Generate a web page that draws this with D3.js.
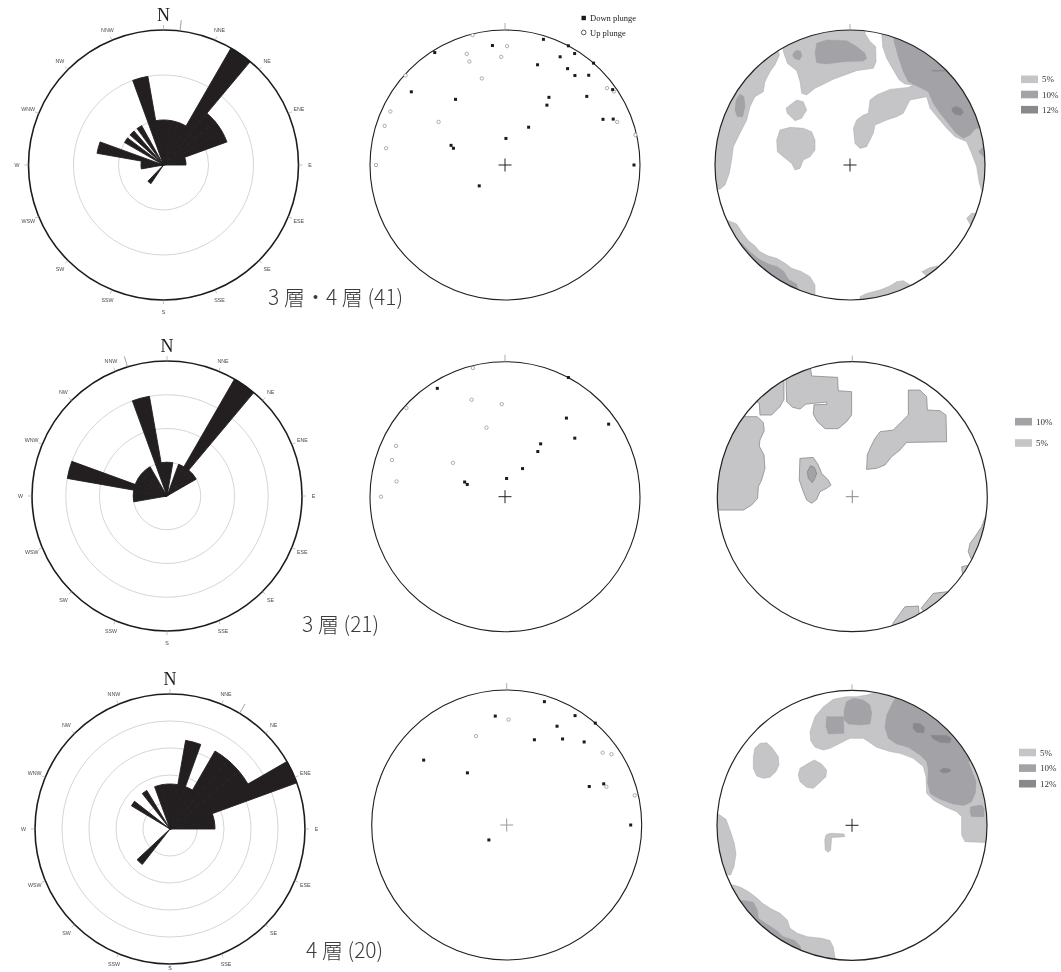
<!DOCTYPE html>
<html>
<head>
<meta charset="utf-8">
<script src="https://cdn.jsdelivr.net/npm/d3@7"></script>
<style>
  body { margin: 0; background: #fff; }
  svg { display: block; will-change: transform; }
</style>
</head>
<body>
<svg id="fig" width="1061" height="972"></svg>
<script>
// ---------------------------------------------------------------
// Orientation data of artifacts from layers 3 and 4.
// Column 1: rose diagrams of trend (10° bins, counts)
// Column 2: lower-hemisphere equal-area plots of long axes
// Column 3: density contours of the same axes (%)
// ---------------------------------------------------------------

const panelTitles = ["3 層・4 層 (41)", "3 層 (21)", "4 層 (20)"];
const compassLabels = ["N", "NNE", "NE", "ENE", "E", "ESE", "SE", "SSE",
                       "S", "SSW", "SW", "WSW", "W", "WNW", "NW", "NNW"];

// ---- rose diagrams: petal start azimuth, end azimuth, count ----
const rose1Start = [350, 0, 10, 20, 30, 40, 50, 60, 70, 80, 214, 260, 270, 280, 300, 312, 324, 340];
const rose1End   = [360, 10, 20, 30, 40, 50, 60, 70, 80, 90, 224, 270, 280, 290, 307, 319, 331, 350];
const rose1Count = [2, 2, 2, 2, 6, 3, 3, 3, 1, 1, 1, 1, 1, 3, 2, 2, 2, 4];
const rose1Max = 6, rose1Rings = [2, 4], rose1Mean = 7;

const rose2Start = [260, 270, 280, 290, 300, 310, 320, 340, 350, 0, 20, 30, 40, 50];
const rose2End   = [270, 280, 290, 300, 310, 320, 330, 350, 360, 10, 30, 40, 50, 60];
const rose2Count = [1, 1, 3, 1, 1, 1, 1, 3, 1, 1, 1, 4, 1, 1];
const rose2Max = 4, rose2Rings = [1, 2, 3], rose2Mean = 343;

const rose3Start = [340, 350, 0, 10, 20, 30, 40, 50, 60, 70, 80, 218, 301, 322];
const rose3End   = [350, 360, 10, 20, 30, 40, 50, 60, 70, 80, 90, 227, 308, 329];
const rose3Count = [1, 1, 1, 2, 1, 2, 2, 2, 3, 1, 1, 1, 1, 1];
const rose3Max = 3, rose3Rings = [0.6, 1.2, 1.8, 2.4], rose3Mean = 31;

// ---- axis orientations: trend (°) and plunge (°) ----
const net1DownTrend  = [354, 328, 17, 28, 32, 27, 18, 41, 33, 38, 43, 308, 323, 33, 35, 50, 55, 65, 67, 32, 2, 290, 288, 90, 231];
const net1DownPlunge = [12, 2, 3, 0, 3, 11, 23, 0, 16, 17, 10, 13, 39, 40, 45, 22, 3, 21, 14, 63, 74, 55, 57, 5, 70];
const net1UpTrend    = [346, 1, 341, 341, 358, 312, 345, 53, 56, 295, 288, 303, 69, 77, 278, 270];
const net1UpPlunge   = [1, 13, 14, 20, 21, 1, 34, 6, 3, 7, 7, 41, 12, 1, 12, 5];

const net2DownTrend  = [328, 28, 38, 55, 50, 34, 36, 32, 5, 290, 288];
const net2DownPlunge = [6, 0, 27, 7, 33, 51, 56, 70, 79, 64, 66];
const net2UpTrend    = [346, 341, 358, 312, 345, 295, 288, 303, 278, 270];
const net2UpPlunge   = [2, 25, 32, 2, 46, 12, 13, 52, 20, 9];

const net3DownTrend  = [17, 354, 32, 41, 27, 18, 33, 43, 308, 323, 65, 67, 90, 230];
const net3DownPlunge = [5, 20, 5, 0, 19, 34, 25, 17, 23, 50, 33, 23, 9, 76];
const net3UpTrend    = [1, 341, 53, 56, 69, 77];
const net3UpPlunge   = [23, 31, 12, 7, 22, 3];

// ---- density contours, as outlines in net coordinates
//      (x east, y north, primitive circle = 1) ----
const contour1Pct5 = [
  [[-0.506,1.074],[-0.494,0.840],[-0.464,0.753],[-0.395,0.699],[-0.370,0.617],[-0.358,0.531],[-0.321,0.519],[-0.259,0.568],[-0.123,0.635],[0.049,0.699],[0.173,0.716],[0.193,0.765],[0.190,0.877],[0.148,0.914],[0.111,0.975],[0.111,1.074]],
  [[0.222,1.074],[0.235,0.975],[0.242,0.877],[0.272,0.790],[0.321,0.704],[0.365,0.630],[0.407,0.600],[0.469,0.593],[0.432,0.575],[0.296,0.560],[0.198,0.519],[0.148,0.481],[0.136,0.383],[0.099,0.370],[0.049,0.333],[0.025,0.272],[0.037,0.160],[0.074,0.123],[0.123,0.136],[0.173,0.235],[0.185,0.296],[0.272,0.333],[0.346,0.358],[0.395,0.383],[0.444,0.481],[0.568,0.506],[0.593,0.420],[0.654,0.346],[0.716,0.272],[0.778,0.210],[0.864,0.173],[0.901,0.086],[0.938,-0.012],[0.958,-0.136],[0.983,-0.210],[1.111,-0.210],[1.111,1.074]],
  [[-0.568,0.975],[-0.523,0.815],[-0.556,0.741],[-0.593,0.691],[-0.630,0.617],[-0.642,0.543],[-0.704,0.506],[-0.741,0.432],[-0.765,0.333],[-0.815,0.235],[-0.864,0.136],[-0.877,0.037],[-0.894,-0.062],[-0.926,-0.148],[-0.963,-0.180],[-1.111,-0.180],[-1.111,0.975]],
  [[-0.444,0.444],[-0.395,0.481],[-0.346,0.469],[-0.321,0.407],[-0.358,0.346],[-0.407,0.328],[-0.464,0.383],[-0.474,0.420]],
  [[-0.519,0.259],[-0.444,0.279],[-0.346,0.272],[-0.284,0.247],[-0.259,0.185],[-0.259,0.111],[-0.296,0.062],[-0.346,0.037],[-0.370,-0.025],[-0.407,-0.037],[-0.432,0.012],[-0.494,0.062],[-0.538,0.099],[-0.543,0.185]],
  [[-0.914,-0.407],[-0.840,-0.437],[-0.795,-0.506],[-0.753,-0.560],[-0.704,-0.600],[-0.667,-0.642],[-0.605,-0.674],[-0.543,-0.691],[-0.481,-0.728],[-0.432,-0.765],[-0.358,-0.790],[-0.296,-0.827],[-0.259,-0.889],[-0.259,-1.123],[-1.111,-1.123],[-1.111,-0.407]],
  [[0.074,-0.975],[0.123,-0.951],[0.222,-0.926],[0.296,-0.896],[0.346,-0.864],[0.395,-0.857],[0.420,-0.872],[0.469,-0.901],[0.469,-1.123],[0.074,-1.123]],
  [[0.864,-0.395],[0.901,-0.358],[0.938,-0.358],[1.012,-0.358],[1.012,-0.481],[0.901,-0.457]],
  [[0.531,-0.790],[0.593,-0.760],[0.647,-0.748],[0.716,-0.790],[0.617,-0.864]]
];
const contour1Pct10 = [
  [[-0.247,0.901],[-0.173,0.926],[-0.025,0.921],[0.049,0.877],[0.111,0.827],[0.123,0.790],[0.099,0.770],[-0.049,0.765],[-0.173,0.748],[-0.247,0.758],[-0.259,0.827]],
  [[-0.420,0.827],[-0.395,0.852],[-0.365,0.840],[-0.356,0.807],[-0.375,0.778],[-0.410,0.788],[-0.425,0.807]],
  [[0.321,1.0],[0.326,0.914],[0.358,0.802],[0.395,0.691],[0.432,0.617],[0.506,0.580],[0.580,0.543],[0.617,0.457],[0.667,0.383],[0.728,0.309],[0.785,0.235],[0.840,0.198],[0.889,0.222],[0.933,0.272],[1.062,0.272],[1.062,1.0]],
  [[0.951,0.099],[0.988,0.136],[1.037,0.136],[1.037,0.049],[0.988,0.062]],
  [[-0.844,0.481],[-0.815,0.526],[-0.785,0.506],[-0.778,0.432],[-0.795,0.358],[-0.835,0.358],[-0.852,0.407]],
  [[-0.802,-0.580],[-0.741,-0.642],[-0.672,-0.699],[-0.605,-0.733],[-0.538,-0.753],[-0.489,-0.790],[-0.457,-0.847],[-0.395,-0.881],[-0.370,-1.0],[-1.111,-1.0],[-1.111,-0.580]]
];
const contour1Pct12 = [
  [[0.753,0.420],[0.785,0.437],[0.827,0.420],[0.844,0.388],[0.820,0.365],[0.778,0.375],[0.756,0.395]],
  [[0.605,0.704],[0.704,0.704],[0.716,0.694],[0.617,0.691]]
];

const contour2Pct5 = [
  [[-0.802,0.593],[-0.704,0.593],[-0.659,0.548],[-0.652,0.489],[-0.684,0.420],[-0.689,0.375],[-0.654,0.309],[-0.647,0.210],[-0.672,0.123],[-0.696,0.074],[-0.701,-0.012],[-0.746,-0.062],[-0.807,-0.099],[-1.128,-0.099],[-1.128,0.593]],
  [[-0.689,0.691],[-0.684,0.605],[-0.598,0.605],[-0.536,0.667],[-0.506,0.721],[-0.506,0.859],[-0.635,0.914],[-0.758,0.741]],
  [[-0.491,0.864],[-0.486,0.704],[-0.442,0.662],[-0.388,0.649],[-0.343,0.686],[-0.190,0.701],[-0.188,0.684],[-0.284,0.681],[-0.289,0.612],[-0.259,0.556],[-0.202,0.504],[-0.104,0.504],[-0.042,0.556],[-0.005,0.605],[-0.005,0.778],[-0.104,0.785],[-0.109,0.884],[-0.301,0.894],[-0.309,0.951],[-0.388,1.012],[-0.511,0.938]],
  [[0.415,0.790],[0.501,0.790],[0.551,0.741],[0.556,0.642],[0.649,0.637],[0.694,0.605],[0.699,0.407],[0.402,0.402],[0.353,0.346],[0.291,0.296],[0.242,0.235],[0.180,0.210],[0.106,0.202],[0.111,0.309],[0.131,0.358],[0.168,0.432],[0.205,0.481],[0.304,0.494],[0.365,0.556],[0.415,0.605]],
  [[-0.388,0.284],[-0.289,0.291],[-0.252,0.235],[-0.227,0.173],[-0.178,0.123],[-0.158,0.086],[-0.190,0.062],[-0.240,0.037],[-0.264,-0.020],[-0.301,-0.049],[-0.338,-0.025],[-0.363,0.037],[-0.393,0.123]],
  [[0.995,-0.123],[0.958,-0.222],[0.909,-0.296],[0.872,-0.346],[0.859,-0.407],[0.884,-0.469],[1.094,-0.469],[1.094,-0.123]],
  [[0.810,-0.519],[0.852,-0.509],[0.896,-0.568],[0.817,-0.580]],
  [[0.509,-0.827],[0.600,-0.716],[0.699,-0.704],[0.798,-0.716],[0.600,-0.914]],
  [[0.304,-0.933],[0.390,-0.815],[0.489,-0.810],[0.494,-0.852],[0.501,-1.012],[0.254,-1.062]]
];
const contour2Pct10 = [
  [[-0.333,0.185],[-0.309,0.230],[-0.281,0.217],[-0.264,0.173],[-0.277,0.136],[-0.296,0.104],[-0.326,0.136]]
];
const contour2Pct12 = [];

const contour3Pct5 = [
  [[-0.311,0.694],[-0.274,0.805],[-0.212,0.879],[-0.138,0.933],[-0.040,0.953],[0.035,0.953],[0.109,0.965],[0.158,0.978],[0.257,0.973],[0.479,1.052],[1.096,0.410],[1.096,-0.133],[0.998,-0.128],[0.837,-0.121],[0.812,-0.072],[0.812,0.064],[0.775,0.101],[0.689,0.138],[0.602,0.188],[0.553,0.237],[0.548,0.360],[0.528,0.435],[0.454,0.496],[0.356,0.533],[0.281,0.546],[0.183,0.578],[0.084,0.644],[-0.015,0.644],[-0.089,0.607],[-0.163,0.570],[-0.212,0.558],[-0.274,0.578],[-0.306,0.627]],
  [[-0.719,0.570],[-0.681,0.607],[-0.632,0.612],[-0.595,0.578],[-0.546,0.509],[-0.541,0.447],[-0.563,0.398],[-0.607,0.356],[-0.657,0.348],[-0.706,0.365],[-0.731,0.422],[-0.731,0.509]],
  [[-0.385,0.422],[-0.323,0.459],[-0.279,0.484],[-0.225,0.454],[-0.188,0.410],[-0.193,0.360],[-0.232,0.323],[-0.286,0.274],[-0.336,0.281],[-0.385,0.323],[-0.398,0.373]],
  [[-0.193,-0.072],[-0.163,-0.059],[-0.059,-0.064],[-0.054,-0.084],[-0.151,-0.091],[-0.158,-0.183],[-0.175,-0.200],[-0.198,-0.183],[-0.202,-0.109]],
  [[-0.990,0.084],[-0.933,0.044],[-0.899,-0.047],[-0.872,-0.133],[-0.859,-0.212],[-0.874,-0.306],[-0.899,-0.368],[-1.126,-0.368],[-1.126,0.084]],
  [[-0.879,-0.442],[-0.825,-0.459],[-0.768,-0.491],[-0.711,-0.533],[-0.662,-0.578],[-0.602,-0.617],[-0.533,-0.652],[-0.479,-0.701],[-0.459,-0.763],[-0.405,-0.800],[-0.331,-0.825],[-0.225,-0.837],[-0.163,-0.854],[-0.138,-0.904],[-0.126,-0.978],[-0.126,-1.195],[-1.126,-1.195],[-1.126,-0.442]]
];
const contour3Pct10 = [
  [[0.356,1.002],[0.301,0.909],[0.257,0.817],[0.244,0.726],[0.269,0.644],[0.331,0.602],[0.417,0.578],[0.504,0.521],[0.553,0.472],[0.565,0.410],[0.560,0.311],[0.583,0.232],[0.652,0.193],[0.751,0.158],[0.830,0.146],[0.886,0.175],[0.914,0.242],[0.919,0.323],[0.886,0.410],[0.862,0.472],[1.096,0.533],[1.096,1.002]],
  [[0.879,0.138],[0.960,0.151],[0.978,0.126],[0.978,0.064],[0.886,0.064],[0.874,0.101]],
  [[-0.188,0.805],[-0.064,0.805],[-0.059,0.681],[-0.175,0.677],[-0.193,0.731]],
  [[-0.040,0.916],[0.010,0.941],[0.084,0.928],[0.133,0.891],[0.146,0.830],[0.133,0.751],[0.059,0.743],[-0.027,0.751],[-0.059,0.780],[-0.059,0.854]],
  [[-0.793,-0.558],[-0.731,-0.570],[-0.701,-0.627],[-0.694,-0.689],[-0.632,-0.731],[-0.558,-0.780],[-0.509,-0.825],[-0.422,-0.854],[-0.380,-0.899],[-0.373,-1.072],[-1.126,-1.072],[-1.126,-0.558]]
];
const contour3Pct12 = [
  [[0.454,0.760],[0.504,0.756],[0.541,0.726],[0.533,0.681],[0.479,0.686],[0.449,0.719]],
  [[0.578,0.669],[0.701,0.669],[0.738,0.644],[0.726,0.607],[0.652,0.612],[0.602,0.637]],
  [[0.647,0.405],[0.677,0.427],[0.721,0.420],[0.736,0.405],[0.701,0.385],[0.664,0.388]]
];

// legend order as printed beside each contour plot
const legend1Levels = [5, 10, 12];
const legend2Levels = [10, 5];
const legend3Levels = [5, 10, 12];

// ---------------------------------------------------------------
const W = 1061, H = 972;
const svg = d3.select("#fig");
svg.append("rect").attr("width", W).attr("height", H).attr("fill", "#fff");

const R = 135;
const deg = Math.PI / 180;
const levelFill = { 5: "#c5c5c7", 10: "#a3a3a7", 12: "#89898d" };
const serif = "'Liberation Serif', 'DejaVu Serif', serif";
const sans = "'Liberation Sans', Arial, sans-serif";

// ---------------- rose diagram ----------------
function drawRose(cfg) {
  const g = svg.append("g").attr("transform", `translate(${cfg.cx},${cfg.cy})`);
  const r = d3.scaleLinear().domain([0, cfg.max]).range([0, R]);

  g.selectAll("circle.ring").data(cfg.rings).join("circle")
    .attr("class", "ring").attr("r", d => r(d))
    .attr("fill", "none").attr("stroke", "#b9b9b9").attr("stroke-width", 0.6);

  const petals = cfg.start.map((s, i) => ({ s, e: cfg.end[i], n: cfg.count[i] }));
  const arc = d3.arc().innerRadius(0)
    .outerRadius(d => r(d.n))
    .startAngle(d => d.s * deg).endAngle(d => d.e * deg);
  // a hairline of the fill colour closes the seams between neighbouring bins
  g.selectAll("path.petal").data(petals).join("path")
    .attr("class", "petal").attr("d", arc)
    .attr("fill", "#231f20").attr("stroke", "#231f20").attr("stroke-width", 0.9)
    .attr("stroke-linejoin", "round");

  g.append("circle").attr("r", R).attr("fill", "none")
    .attr("stroke", "#1c1c1c").attr("stroke-width", 1.6);

  // compass ticks and labels (kept inside the page at the bottom edge)
  compassLabels.forEach((lab, i) => {
    const a = i * 22.5 * deg;
    const p0 = d3.pointRadial(a, R), p1 = d3.pointRadial(a, R + (i === 0 ? 5 : 4));
    g.append("line").attr("x1", p0[0]).attr("y1", p0[1]).attr("x2", p1[0]).attr("y2", p1[1])
      .attr("stroke", "#9a9a9a").attr("stroke-width", 0.6);
    if (i === 0) {
      g.append("text").attr("x", 0).attr("y", -R - 9.5)
        .attr("text-anchor", "middle").attr("font-family", serif)
        .attr("font-size", 18).attr("fill", "#1e1e1e").text(lab);
    } else {
      const p = d3.pointRadial(a, R + 11.5);
      const yMax = H - cfg.cy - 4;
      g.append("text").attr("x", p[0]).attr("y", Math.min(p[1], yMax))
        .attr("text-anchor", "middle").attr("dominant-baseline", "central")
        .attr("font-family", sans).attr("font-size", 5.3).attr("fill", "#4a4a4a").text(lab);
    }
  });

  // mean direction marker outside the frame
  const m0 = d3.pointRadial(cfg.mean * deg, R), m1 = d3.pointRadial(cfg.mean * deg, R + 11);
  g.append("line").attr("x1", m0[0]).attr("y1", m0[1]).attr("x2", m1[0]).attr("y2", m1[1])
    .attr("stroke", "#8a8a8a").attr("stroke-width", 0.8);
}

// ---------------- equal-area net ----------------
function drawNet(cfg) {
  const g = svg.append("g").attr("transform", `translate(${cfg.cx},${cfg.cy})`);
  const rho = d3.scaleLinear().domain([0, 1]).range([0, R]);
  const project = (trend, plunge) =>
    d3.pointRadial(trend * deg, rho(Math.SQRT2 * Math.sin((90 - plunge) * deg / 2)));

  g.append("circle").attr("r", R).attr("fill", "none")
    .attr("stroke", "#1e1e1e").attr("stroke-width", 1.1);
  g.append("line").attr("x1", 0).attr("x2", 0).attr("y1", -R - 7).attr("y2", -R)
    .attr("stroke", "#9a9a9a").attr("stroke-width", 0.8);
  g.append("line").attr("x1", -6.5).attr("x2", 6.5).attr("y1", 0).attr("y2", 0)
    .attr("stroke", cfg.crossColor).attr("stroke-width", 1);
  g.append("line").attr("x1", 0).attr("x2", 0).attr("y1", -6.5).attr("y2", 6.5)
    .attr("stroke", cfg.crossColor).attr("stroke-width", 1);

  const up = cfg.upTrend.map((t, i) => project(t, cfg.upPlunge[i]));
  g.selectAll("circle.up").data(up).join("circle")
    .attr("class", "up").attr("cx", d => d[0]).attr("cy", d => d[1]).attr("r", 1.7)
    .attr("fill", "#fff").attr("stroke", "#8c8c8c").attr("stroke-width", 0.7);

  const down = cfg.downTrend.map((t, i) => project(t, cfg.downPlunge[i]));
  g.selectAll("rect.down").data(down).join("rect")
    .attr("class", "down").attr("x", d => d[0] - 1.5).attr("y", d => d[1] - 1.5)
    .attr("width", 3).attr("height", 3).attr("fill", "#1a1a1a");
}

// ---------------- density contours ----------------
function drawContour(cfg, idx) {
  const x = d3.scaleLinear().domain([-1, 1]).range([cfg.cx - R, cfg.cx + R]);
  const y = d3.scaleLinear().domain([-1, 1]).range([cfg.cy + R, cfg.cy - R]);
  const clipId = "net-clip-" + idx;
  svg.append("clipPath").attr("id", clipId)
    .append("circle").attr("cx", cfg.cx).attr("cy", cfg.cy).attr("r", R);

  const line = d3.line().x(d => x(d[0])).y(d => y(d[1])).curve(d3.curveLinearClosed);
  const g = svg.append("g").attr("clip-path", `url(#${clipId})`);
  [[5, cfg.pct5], [10, cfg.pct10], [12, cfg.pct12]].forEach(([lvl, polys]) => {
    g.selectAll(null).data(polys).join("path")
      .attr("d", line)
      .attr("fill", levelFill[lvl])
      .attr("stroke", cfg.edge).attr("stroke-width", cfg.edgeWidth)
      .attr("stroke-linejoin", "round");
  });

  svg.append("circle").attr("cx", cfg.cx).attr("cy", cfg.cy).attr("r", R)
    .attr("fill", "none").attr("stroke", "#222").attr("stroke-width", 1.2);
  svg.append("line").attr("x1", cfg.cx).attr("x2", cfg.cx)
    .attr("y1", cfg.cy - R - 6).attr("y2", cfg.cy - R)
    .attr("stroke", "#9a9a9a").attr("stroke-width", 0.8);
  svg.append("line").attr("x1", cfg.cx - 6.5).attr("x2", cfg.cx + 6.5)
    .attr("y1", cfg.cy).attr("y2", cfg.cy)
    .attr("stroke", cfg.crossColor).attr("stroke-width", 1);
  svg.append("line").attr("x1", cfg.cx).attr("x2", cfg.cx)
    .attr("y1", cfg.cy - 6.5).attr("y2", cfg.cy + 6.5)
    .attr("stroke", cfg.crossColor).attr("stroke-width", 1);

  // legend
  const lg = svg.append("g");
  const ly = d3.scalePoint().domain(cfg.legend)
    .range([cfg.legendY, cfg.legendY + cfg.legendStep * (cfg.legend.length - 1)]);
  lg.selectAll("rect").data(cfg.legend).join("rect")
    .attr("x", cfg.legendX).attr("y", d => ly(d) - 3.8)
    .attr("width", 17).attr("height", 7.6)
    .attr("fill", d => levelFill[d]);
  lg.selectAll("text").data(cfg.legend).join("text")
    .attr("x", cfg.legendX + 21).attr("y", d => ly(d))
    .attr("dominant-baseline", "central")
    .attr("font-family", serif).attr("font-size", 9).attr("fill", "#333")
    .text(d => d + "%");
}

// ---------------- assemble rows ----------------
drawRose({ cx: 163.5, cy: 165, start: rose1Start, end: rose1End, count: rose1Count,
           max: rose1Max, rings: rose1Rings, mean: rose1Mean });
drawRose({ cx: 167, cy: 496, start: rose2Start, end: rose2End, count: rose2Count,
           max: rose2Max, rings: rose2Rings, mean: rose2Mean });
drawRose({ cx: 170, cy: 829, start: rose3Start, end: rose3End, count: rose3Count,
           max: rose3Max, rings: rose3Rings, mean: rose3Mean });

drawNet({ cx: 505, cy: 165, downTrend: net1DownTrend, downPlunge: net1DownPlunge,
          upTrend: net1UpTrend, upPlunge: net1UpPlunge, crossColor: "#222" });
drawNet({ cx: 505, cy: 496.7, downTrend: net2DownTrend, downPlunge: net2DownPlunge,
          upTrend: net2UpTrend, upPlunge: net2UpPlunge, crossColor: "#222" });
drawNet({ cx: 506.7, cy: 825, downTrend: net3DownTrend, downPlunge: net3DownPlunge,
          upTrend: net3UpTrend, upPlunge: net3UpPlunge, crossColor: "#9a9a9a" });

// symbol key for the nets
const key = svg.append("g").attr("font-family", serif).attr("font-size", 8.5).attr("fill", "#222");
key.append("rect").attr("x", 581.5).attr("y", 15.8).attr("width", 4.4).attr("height", 4.4).attr("fill", "#1a1a1a");
key.append("text").attr("x", 590).attr("y", 18).attr("dominant-baseline", "central").text("Down plunge");
key.append("circle").attr("cx", 583.7).attr("cy", 32.5).attr("r", 2.3)
  .attr("fill", "#fff").attr("stroke", "#333").attr("stroke-width", 0.8);
key.append("text").attr("x", 590).attr("y", 32.5).attr("dominant-baseline", "central").text("Up plunge");

drawContour({ cx: 850, cy: 165, pct5: contour1Pct5, pct10: contour1Pct10, pct12: contour1Pct12,
              edge: "#a0a0a4", edgeWidth: 0.4, crossColor: "#222",
              legend: legend1Levels, legendX: 1021, legendY: 79.3, legendStep: 15.2 }, 1);
drawContour({ cx: 852.3, cy: 496.7, pct5: contour2Pct5, pct10: contour2Pct10, pct12: contour2Pct12,
              edge: "#7f7f83", edgeWidth: 0.7, crossColor: "#8a8a8a",
              legend: legend2Levels, legendX: 1015, legendY: 421.7, legendStep: 21.3 }, 2);
drawContour({ cx: 852, cy: 825.3, pct5: contour3Pct5, pct10: contour3Pct10, pct12: contour3Pct12,
              edge: "#a0a0a4", edgeWidth: 0.4, crossColor: "#222",
              legend: legend3Levels, legendX: 1019, legendY: 752.5, legendStep: 15.6 }, 3);

// row captions
const captionPos = [[268, 305], [302, 632], [306, 958]];
svg.selectAll("text.caption").data(panelTitles).join("text")
  .attr("class", "caption")
  .attr("x", (d, i) => captionPos[i][0]).attr("y", (d, i) => captionPos[i][1])
  .attr("font-family", "'Noto Sans CJK JP', 'Noto Sans', sans-serif")
  .attr("font-weight", 300).attr("font-size", 21).attr("fill", "#3c3c3c")
  .text(d => d);
</script>
</body>
</html>
